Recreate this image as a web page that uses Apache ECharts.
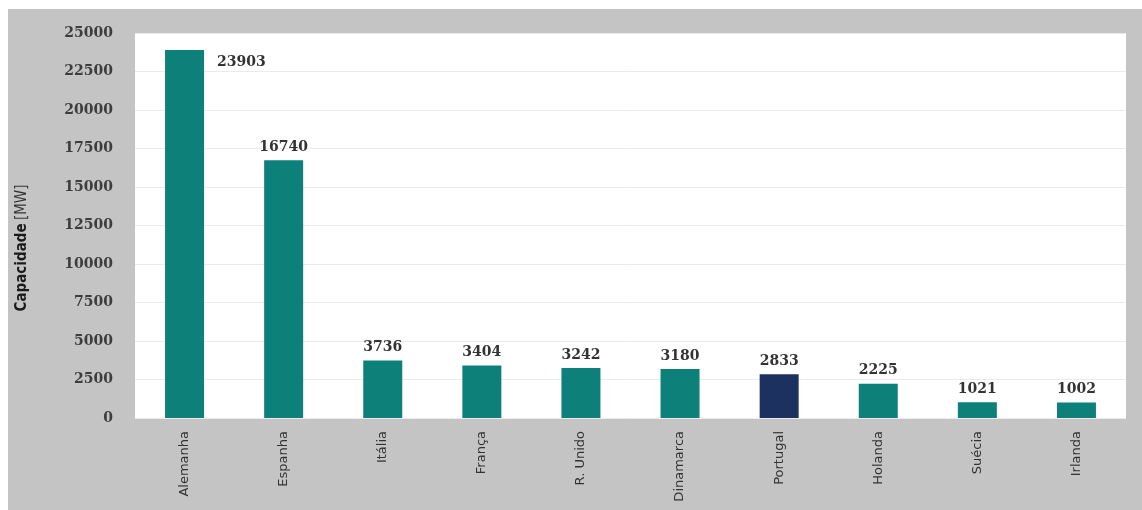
<!DOCTYPE html>
<html>
<head>
<meta charset="utf-8">
<script src="https://cdn.jsdelivr.net/npm/echarts@6/dist/echarts.min.js"></script>
<style>
html,body{margin:0;padding:0;background:#fff;width:1142px;height:510px;overflow:hidden;}
#c{position:absolute;left:8px;top:9px;width:1134px;height:501px;}
</style>
</head>
<body>
<div id="c"></div>
<script>
const categories = ['Alemanha','Espanha','Itália','França','R. Unido','Dinamarca','Portugal','Holanda','Suécia','Irlanda'];
const capacity = [23903, 16740, 3736, 3404, 3242, 3180, 2833, 2225, 1021, 1002];
const highlighted = 'Portugal';
const yTitle = 'Capacidade';
const yUnit = '[MW]';

const chart = echarts.init(document.getElementById('c'));
const data = capacity.map((v, i) => {
  const d = { value: v };
  if (categories[i] === highlighted) d.itemStyle = { color: '#1c3160' };
  if (i === 0) d.label = { position: [52, 5] };
  return d;
});
chart.setOption({
  backgroundColor: '#c4c4c4',
  animation: false,
  grid: { left: 127, top: 24, right: 16, bottom: 92, show: true, backgroundColor: '#ffffff', borderWidth: 0 },
  graphic: [{
    type: 'text',
    x: 14, y: 239,
    rotation: Math.PI / 2,
    style: {
      text: '{b|' + yTitle + '} {n|' + yUnit + '}',
      align: 'center',
      verticalAlign: 'middle',
      rich: {
        b: { fontFamily: 'DejaVu Sans Condensed, DejaVu Sans', fontWeight: 'bold', fontSize: 15, fill: '#1a1a1a' },
        n: { fontFamily: 'DejaVu Sans Condensed, DejaVu Sans', fontSize: 15, fill: '#333' }
      }
    }
  }],
  xAxis: {
    type: 'category',
    data: categories,
    axisLine: { show: false },
    axisTick: { show: false },
    axisLabel: { rotate: 90, margin: 13, color: '#333', fontFamily: 'DejaVu Sans', fontSize: 13 }
  },
  yAxis: {
    type: 'value',
    min: 0, max: 25000, interval: 2500,
    axisLine: { show: false },
    axisTick: { show: false },
    splitLine: { lineStyle: { color: '#ebebeb', width: 1 } },
    axisLabel: { margin: 22, color: '#3d3d3d', fontFamily: 'DejaVu Serif', fontWeight: 'bold', fontSize: 14, formatter: v => String(v) }
  },
  series: [{
    type: 'bar',
    data: data,
    barWidth: 39,
    itemStyle: { color: '#0d8179' },
    label: { show: true, position: 'top', distance: 6, color: '#333', fontFamily: 'DejaVu Serif', fontWeight: 'bold', fontSize: 14 }
  }]
});
</script>
</body>
</html>
